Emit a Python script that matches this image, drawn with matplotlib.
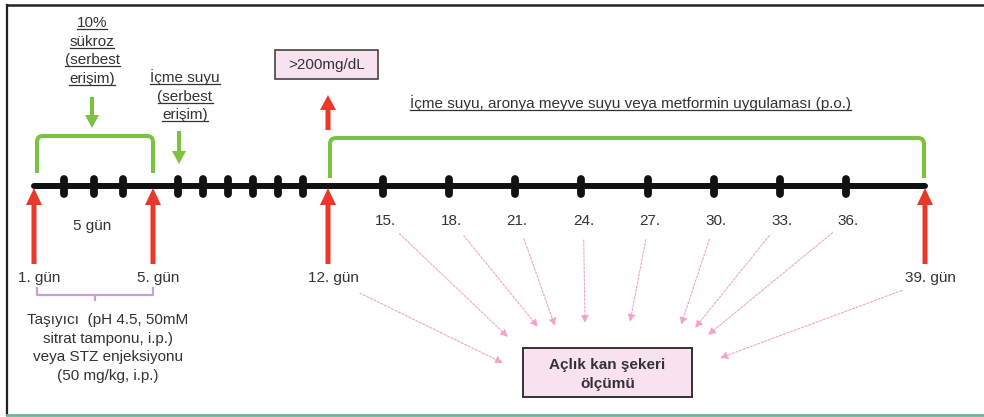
"""
Timeline diagram of the STZ-diabetes protocol (sucrose, injection, treatment,
fasting blood glucose checks), drawn in pixel coordinates.
"""
import matplotlib.pyplot as plt
import numpy as np
from matplotlib.patches import FancyArrow, PathPatch, Rectangle
from matplotlib.path import Path

plt.rcParams["font.family"] = ["Liberation Sans", "DejaVu Sans"]

# ---- content -------------------------------------------------------------
MARK_DAYS = [2, 3, 4, 6, 7, 8, 9, 10, 11, 15, 18, 21, 24, 27, 30, 33, 36]
CHECK_DAYS = [15, 18, 21, 24, 27, 30, 33, 36]
CHECK_LABELS = ["15.", "18.", "21.", "24.", "27.", "30.", "33.", "36."]
KEY_DAYS = [1, 5, 12, 39]
KEY_LABELS = ["1. gün", "5. gün", "12. gün", "39. gün"]
SUCROSE_SPAN = (1, 5)
TREAT_SPAN = (12, 39)
WATER_DAY = 6
GLUCOSE_DAY = 12

SUCROSE_TEXT = ["10%", "sükroz", "(serbest", "erişim)"]
WATER_TEXT = ["İçme suyu", "(serbest", "erişim)"]
TREAT_TEXT = "İçme suyu, aronya meyve suyu veya metformin uygulaması (p.o.)"
CARRIER_TEXT = ["Taşıyıcı  (pH 4.5, 50mM", "sitrat tamponu, i.p.)",
                "veya STZ enjeksiyonu", "(50 mg/kg, i.p.)"]
SPAN_TEXT = "5 gün"
THRESHOLD_TEXT = ">200mg/dL"
MEASURE_TEXT = ["Açlık kan şekeri", "ölçümü"]

# ---- layout --------------------------------------------------------------
W, H = 984, 417
DAY_ANCHORS = [1, 5, 12, 15, 36, 39]
X_ANCHORS = [34, 153, 328, 383, 846, 925]
LINE_Y = 186

RED = "#e8392b"
GREEN = "#7cc242"
PINK_ARROW = "#f3a3c6"
PINK_FILL = "#f9e2f0"
PURPLE = "#c7a0d6"
TXT = "#333333"
FS = 11


def day_x(d):
    return float(np.interp(d, DAY_ANCHORS, X_ANCHORS))


fig = plt.figure(figsize=(W / 100, H / 100), dpi=100)
ax = fig.add_axes([0, 0, 1, 1])
ax.set_xlim(0, W)
ax.set_ylim(H, 0)
ax.axis("off")

# frame
ax.plot([7, 7], [5, 415], color="#222222", lw=1.6)
ax.plot([7, W], [5, 5], color="#222222", lw=1.8)
ax.plot([7, W], [415, 415], color="#6fb59a", lw=2.0)

# main timeline + day marks
ax.plot([day_x(1), day_x(39)], [LINE_Y, LINE_Y], color="#111111", lw=4.3,
        solid_capstyle="round", zorder=3)
for d in MARK_DAYS:
    ax.plot([day_x(d)] * 2, [LINE_Y - 7, LINE_Y + 8], color="#111111", lw=5.6,
            solid_capstyle="round", zorder=4)


def bracket(x0, x1, top, bottom, r=6):
    verts = [(x0, bottom), (x0, top + r), (x0, top), (x0 + r, top),
             (x1 - r, top), (x1, top), (x1, top + r), (x1, bottom)]
    codes = [Path.MOVETO, Path.LINETO, Path.CURVE3, Path.CURVE3,
             Path.LINETO, Path.CURVE3, Path.CURVE3, Path.LINETO]
    ax.add_patch(PathPatch(Path(verts, codes), fill=False, edgecolor=GREEN,
                           lw=2.9, capstyle="butt", zorder=2))


bracket(day_x(SUCROSE_SPAN[0]) + 3, day_x(SUCROSE_SPAN[1]), 136, 173)
bracket(day_x(TREAT_SPAN[0]) + 2, day_x(TREAT_SPAN[1]) - 1, 138, 178)

# green arrows
ax.add_patch(FancyArrow(92, 97, 0, 31, width=4, head_width=14, head_length=13,
                        length_includes_head=True, color=GREEN, lw=0))
ax.add_patch(FancyArrow(day_x(WATER_DAY) + 1, 131, 0, 33, width=4, head_width=14,
                        head_length=13, length_includes_head=True, color=GREEN, lw=0))

# red arrows at key days
for d in KEY_DAYS:
    ax.add_patch(FancyArrow(day_x(d), 264, 0, -76, width=5, head_width=16,
                            head_length=17, length_includes_head=True,
                            color=RED, lw=0, zorder=5))
ax.add_patch(FancyArrow(day_x(GLUCOSE_DAY), 130, 0, -35, width=5, head_width=16,
                        head_length=15, length_includes_head=True, color=RED, lw=0))

# texts
underlined = []


def lines(x, y0, rows, step, under=False, **kw):
    for i, s in enumerate(rows):
        t = ax.text(x, y0 + i * step + 5, s, ha="center", va="baseline",
                    fontsize=FS, color=TXT, **kw)
        if under:
            underlined.append(t)


lines(92, 22, SUCROSE_TEXT, 18.7, under=True)
lines(185, 77, WATER_TEXT, 18.5, under=True)
lines(630, 103, [TREAT_TEXT], 0, under=True)
lines(108, 319, CARRIER_TEXT, 18.7)
lines(92, 225, [SPAN_TEXT], 0)

for d, lab in zip(KEY_DAYS, KEY_LABELS):
    lines(day_x(d) + 5, 277, [lab], 0)
for d, lab in zip(CHECK_DAYS, CHECK_LABELS):
    lines(day_x(d) + 2, 220, [lab], 0)

# threshold box
ax.add_patch(Rectangle((275, 50), 103, 29, facecolor=PINK_FILL,
                       edgecolor="#444444", lw=1.2))
lines(326.5, 64, [THRESHOLD_TEXT], 0)

# measurement box
ax.add_patch(Rectangle((523, 348), 169, 49, facecolor=PINK_FILL,
                       edgecolor="#333333", lw=1.4, zorder=3))
lines(607.5, 364, MEASURE_TEXT, 19, fontweight="bold", zorder=4)

# purple bracket under day 1 - day 5
px0, px1 = day_x(1) + 3, day_x(5)
ax.plot([px0, px0, px1, px1], [288, 295, 295, 288], color=PURPLE, lw=1.6)
ax.plot([(px0 + px1) / 2] * 2, [295, 300], color=PURPLE, lw=1.6)

# dotted pink arrows to the measurement box
SRC_DAYS = [12] + CHECK_DAYS + [39]
TARGETS = [(503, 363), (508, 337), (538, 327), (555, 326), (585, 323),
           (630, 322), (681, 325), (695, 328), (708, 335), (720, 358)]
for d, (tx, ty) in zip(SRC_DAYS, TARGETS):
    if d in (12, 39):
        sx, sy, off = day_x(d) + 5, 280, 30
    else:
        sx, sy, off = day_x(d) + 2, 220, 20
    v = np.array([tx - sx, ty - sy])
    u = v / np.hypot(*v)
    start = (sx + off * u[0], sy + off * u[1])
    ax.annotate("", xy=(tx, ty), xytext=start,
                arrowprops=dict(arrowstyle="-|>,head_length=0.45,head_width=0.22",
                                color=PINK_ARROW, lw=0.8, linestyle=(0, (2, 1.5)),
                                shrinkA=0, shrinkB=0))

# underline marked texts
fig.canvas.draw()
renderer = fig.canvas.get_renderer()
inv = ax.transData.inverted()
for t in underlined:
    bb = t.get_window_extent(renderer)
    (x0, _), (x1, _) = inv.transform([[bb.x0, bb.y0], [bb.x1, bb.y0]])
    yb = t.get_position()[1] + 2
    ax.plot([x0, x1], [yb, yb], color=TXT, lw=0.9)

fig.savefig("out.png", dpi=100)
